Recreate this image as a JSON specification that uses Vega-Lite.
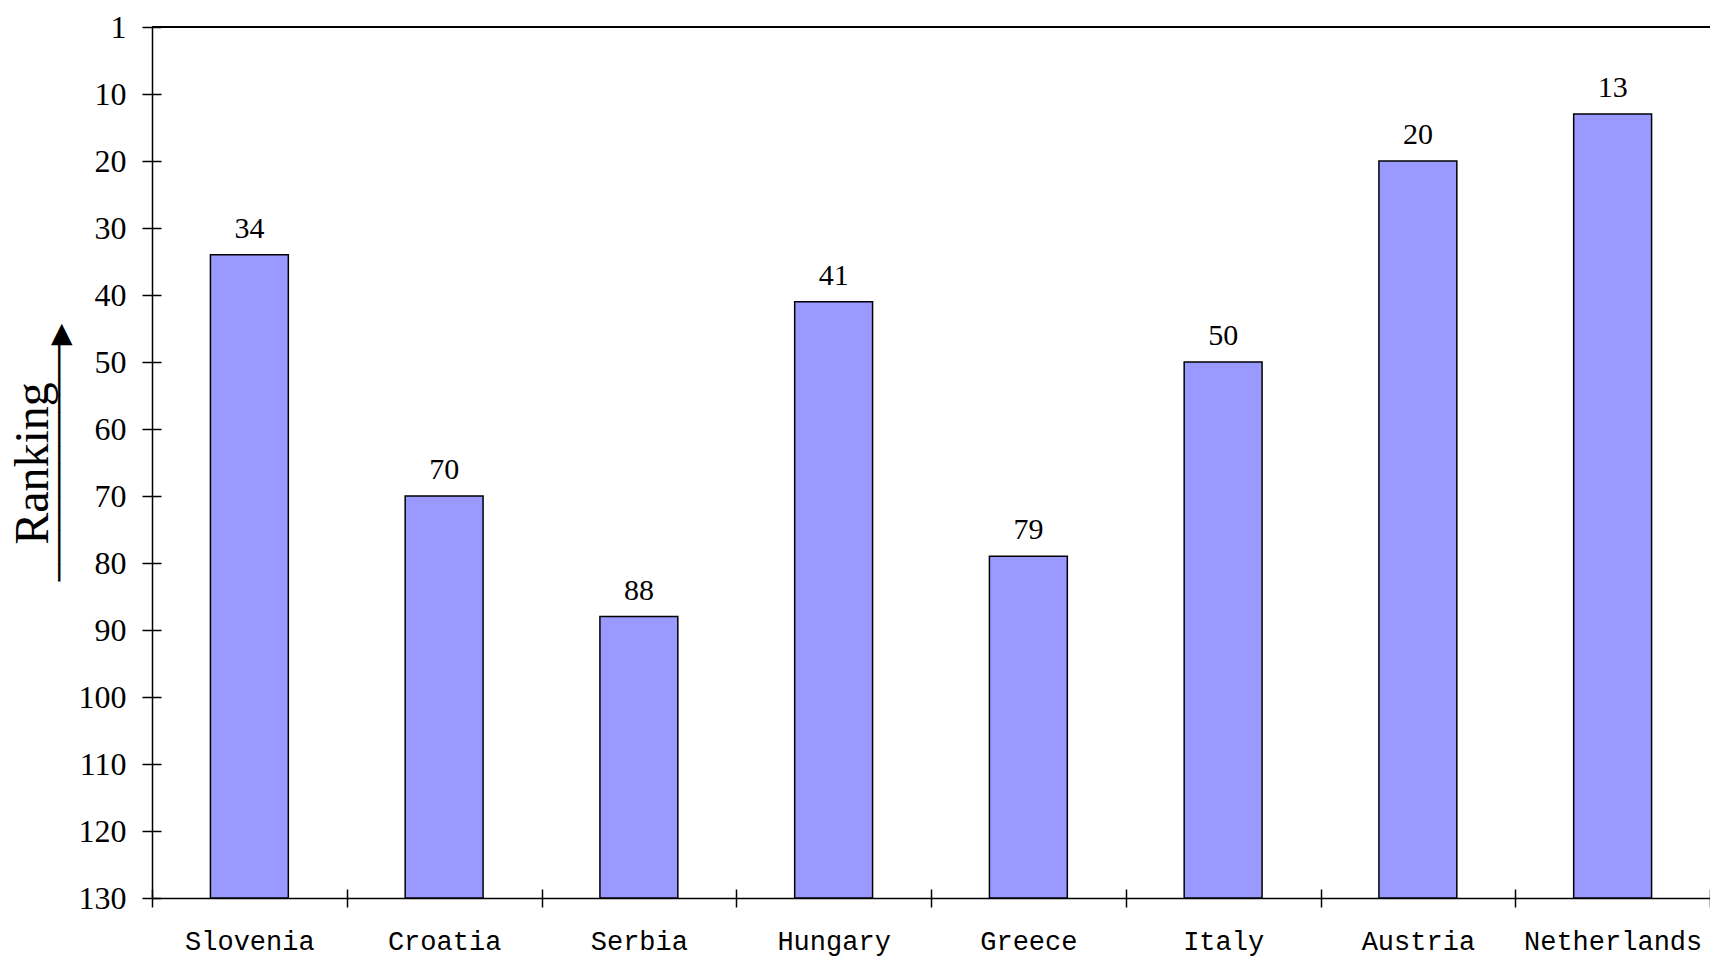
{
  "$schema": "https://vega.github.io/schema/vega-lite/v6.json",
  "autosize": {"type": "none"},
  "padding": {"left": 152, "top": 27, "right": 0, "bottom": 59},
  "width": 1558,
  "height": 871,
  "background": "white",
  "config": {
    "view": {"stroke": null},
    "axis": {"domainColor": "#000", "tickColor": "#000", "domainWidth": 1.5, "tickWidth": 1.5, "grid": false, "labelColor": "#000", "titleColor": "#000"}
  },
  "data": {
    "values": [
      {"country": "Slovenia", "rank": 34},
      {"country": "Croatia", "rank": 70},
      {"country": "Serbia", "rank": 88},
      {"country": "Hungary", "rank": 41},
      {"country": "Greece", "rank": 79},
      {"country": "Italy", "rank": 50},
      {"country": "Austria", "rank": 20},
      {"country": "Netherlands", "rank": 13}
    ]
  },
  "resolve": {"axis": {"x": "independent", "y": "independent"}},
  "layer": [
    {
      "mark": {"type": "bar", "fill": "#9999FF", "stroke": "#000", "strokeWidth": 1.5, "width": {"band": 0.4}},
      "encoding": {
        "x": {
          "field": "country", "type": "nominal", "sort": null,
          "scale": {"paddingInner": 0, "paddingOuter": 0},
          "axis": {
            "title": null, "labelAngle": 0, "tickBand": "extent", "tickSize": 9,
            "labelFont": "Liberation Mono", "labelFontSize": 27, "labelPadding": 21
          }
        },
        "y": {
          "field": "rank", "type": "quantitative",
          "scale": {"domain": [0, 130], "reverse": true, "nice": false, "zero": false},
          "axis": {
            "values": [0, 10, 20, 30, 40, 50, 60, 70, 80, 90, 100, 110, 120, 130],
            "labelExpr": "datum.value === 0 ? '1' : datum.label",
            "tickSize": 10, "labelPadding": 16,
            "labelFont": "Liberation Serif", "labelFontSize": 32,
            "title": "Ranking", "titleFont": "Liberation Serif", "titleFontSize": 48,
            "titleFontWeight": "normal", "titleAngle": -90, "titleAlign": "center",
            "titleBaseline": "alphabetic", "titleX": -105, "titleY": 436
          }
        },
        "y2": {"datum": 130}
      }
    },
    {
      "mark": {"type": "text", "font": "Liberation Serif", "fontSize": 30, "baseline": "alphabetic", "dy": -17, "color": "#000"},
      "encoding": {
        "x": {
          "field": "country", "type": "nominal", "sort": null,
          "axis": {"orient": "top", "offset": -871, "title": null, "labels": false, "domain": false, "tickBand": "extent", "tickSize": 9}
        },
        "y": {
          "field": "rank", "type": "quantitative",
          "axis": {
            "orient": "right", "offset": -1558, "labels": false, "domain": false,
            "values": [0, 10, 20, 30, 40, 50, 60, 70, 80, 90, 100, 110, 120, 130],
            "tickSize": 9,
            "title": "──────────────▶", "titleFont": "DejaVu Sans", "titleFontSize": 28,
            "titleFontWeight": "normal", "titleAngle": -90, "titleAlign": "center",
            "titleBaseline": "middle", "titleX": -92, "titleY": 425
          }
        },
        "text": {"field": "rank", "type": "quantitative"}
      }
    },
    {
      "mark": {"type": "rule", "color": "#000", "strokeWidth": 1.5},
      "encoding": {"y": {"datum": 0, "axis": null}}
    }
  ]
}
